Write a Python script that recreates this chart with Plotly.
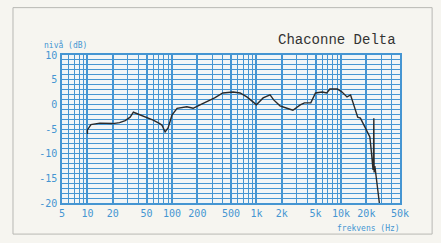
import plotly.graph_objects as go

freq_hz = [10, 10, 11, 14, 20, 24, 28, 32, 35, 40, 50, 60, 70, 76, 83, 90, 100, 115, 150, 178, 215, 260,
           320, 400, 530, 640, 770, 910, 1000, 1200, 1450, 1600, 1900, 2300, 2700, 3300, 3700, 4400,
           5000, 6000, 6800, 7400, 9100, 10300, 11800, 13000, 14000, 15800, 17000, 20000, 22000,
           23000, 24000, 24300, 24500, 24700, 25200, 26000, 28500]
level_db = [-6.0, -5.2, -4.1, -3.8, -3.9, -3.7, -3.3, -2.6, -1.6, -2.0, -2.6, -3.2, -3.8, -4.2, -5.6, -4.8,
            -2.2, -0.8, -0.5, -0.8, -0.1, 0.5, 1.3, 2.3, 2.5, 2.3, 1.5, 0.5, -0.1, 1.3, 1.9, 0.9, -0.3,
            -0.8, -1.2, -0.1, 0.3, 0.3, 2.3, 2.5, 2.3, 3.1, 3.1, 2.5, 1.5, 1.9, 0.3, -2.6, -2.8, -5.2,
            -6.6, -9.9, -13.3, -11.0, -2.8, -13.8, -12.5, -14.7, -20.0]

x_tickvals = [5, 10, 20, 50, 100, 200, 500, 1000, 2000, 5000, 10000, 20000, 50000]
x_ticktext = ["5", "10", "20", "50", "100", "200", "500", "1k", "2k", "5k", "10k", "20k", "50k"]
y_tickvals = [10, 5, 0, -5, -10, -15, -20]
y_ticktext = ["10", "5", "0", "-5", "-10", "-15", "-20"]

title_text = "Chaconne Delta"
y_title = "nivå (dB)"
x_title = "frekvens (Hz)"

BLUE = "#4595d2"
FONT = "DejaVu Sans Mono"

fig = go.Figure()
fig.add_trace(go.Scatter(x=freq_hz, y=level_db, mode="lines",
                         line=dict(color="#2a2a2a", width=1.4), hoverinfo="skip"))

fig.update_layout(
    width=441, height=243,
    margin=dict(l=62, r=41, t=55, b=40, autoexpand=False),
    paper_bgcolor="#f6f5f0",
    plot_bgcolor="#f1f5f7",
    showlegend=False,
    xaxis=dict(type="log", range=[0.69897, 4.69897], tickvals=x_tickvals, ticktext=x_ticktext,
               automargin=False,
               showgrid=True, gridcolor=BLUE, gridwidth=1.6, zeroline=False,
               minor=dict(dtick="D1", showgrid=True, gridcolor=BLUE, gridwidth=1),
               showline=True, linecolor=BLUE, linewidth=1.5, mirror=True,
               tickfont=dict(family=FONT, size=10, color=BLUE), ticks="", ticklabelstandoff=0),
    yaxis=dict(range=[-20, 10], tickvals=y_tickvals, ticktext=y_ticktext,
               automargin=False,
               showgrid=True, gridcolor=BLUE, gridwidth=1.4, zeroline=False,
               minor=dict(dtick=1, showgrid=True, gridcolor=BLUE, gridwidth=1),
               showline=True, linecolor=BLUE, linewidth=1.5, mirror=True,
               tickfont=dict(family=FONT, size=10, color=BLUE), ticks="", ticklabelstandoff=1),
    annotations=[
        dict(text=title_text, xref="paper", yref="paper", x=0.994, y=1.10, xanchor="right",
             yanchor="middle", showarrow=False,
             font=dict(family="Liberation Mono", size=14, color="#333333")),
        dict(text=y_title, xref="paper", yref="paper", x=-0.058, y=1.07, xanchor="left",
             yanchor="middle", showarrow=False, font=dict(family=FONT, size=8, color=BLUE)),
        dict(text=x_title, xref="paper", yref="paper", x=0.908, y=-0.17, xanchor="center",
             yanchor="middle", showarrow=False, font=dict(family=FONT, size=8, color=BLUE)),
    ],
    shapes=[dict(type="rect", xref="paper", yref="paper", x0=-0.145, x1=1.095, y0=-0.21, y1=1.32,
                 line=dict(color="#b8b8b4", width=1), layer="below")],
)

fig.write_html("out.html", config={"displayModeBar": False},
               post_script="document.body.style.margin='0';document.body.style.background='#f6f5f0';")
